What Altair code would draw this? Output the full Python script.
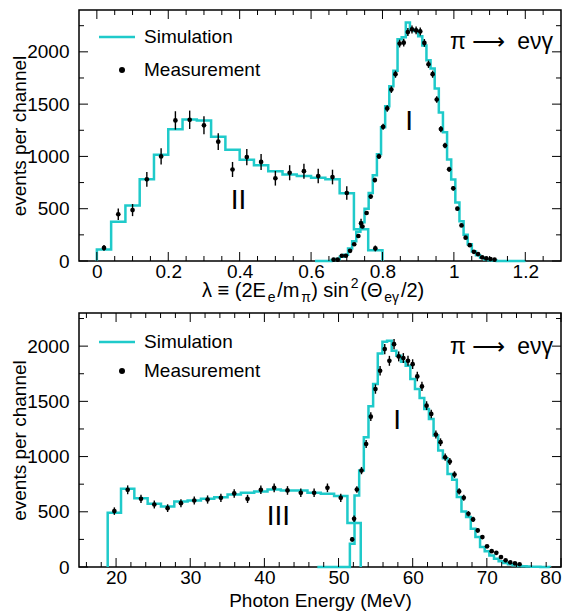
import altair as alt
import pandas as pd

# ---------------- data ----------------
CYAN = "#1fcaca"
FONT = "Liberation Sans"

# Top panel, region II: simulation bins of 0.04 starting at 0
top2_start = 0.0
top2_width = 0.04
top2_sim = [110, 375, 531, 781, 1016, 1259, 1353, 1344, 1188, 1063, 969, 916, 859,
            828, 812, 797, 781, 647, 303, 103]
top2_meas = [125, 447, 487, 781, 1000, 1344, 1350, 1297, 1141, 875, 994, 947, 791,
             844, 859, 813, 803, 650, 360, 120]
top2_err = [28, 55, 58, 70, 78, 88, 88, 86, 80, 72, 78, 76, 70, 72, 72, 70, 70,
            64, 45, 28]

# Top panel, region I
top1_start = 0.611
top1_width = 0.01156
top1_sim = [0, 0, 0, 0, 10, 20, 40, 60, 120, 190, 280, 370, 500, 650, 820, 1020,
            1280, 1480, 1670, 1820, 2120, 2140, 2280, 2210, 2200, 2150, 2060, 1920,
            1840, 1650, 1420, 1230, 970, 780, 560, 380, 250, 160, 90, 55, 30, 15, 8,
            5, 0, 0, 0, 0, 0, 0, 0]
top1_meas_first = 4
top1_meas = [13, 13, 50, 50, 97, 160, 239, 330, 459, 616, 774, 1000, 1283, 1459,
             1639, 1786, 2079, 2088, 2189, 2214, 2205, 2195, 2085, 1881, 1786, 1544,
             1261, 1104, 877, 695, 500, 340, 223, 151, 88, 66, 35, 25, 19, 13]
top1_err = [5, 5, 7, 7, 9, 11, 13, 15, 17, 20, 22, 25, 29, 31, 32, 34, 37, 37, 38,
            38, 38, 38, 37, 35, 34, 32, 29, 27, 24, 21, 18, 15, 12, 10, 8, 7, 5, 4,
            4, 3]

# Bottom panel, region III
bot3_start = 18.87
bot3_width = 1.796
bot3_sim = [491, 708, 623, 572, 548, 593, 602, 617, 632, 657, 672, 684, 702, 693,
            693, 672, 663, 642, 398]
bot3_meas = [506, 699, 617, 566, 533, 578, 602, 611, 626, 666, 617, 699, 717, 693,
             672, 672, 717, 626, 437]
bot3_err = [34, 40, 37, 36, 35, 36, 36, 37, 37, 38, 37, 39, 39, 39, 38, 38, 39, 37, 30]

# Bottom panel, region I
bot1_start = 47.14
bot1_width = 0.627
bot1_sim = [0, 0, 0, 0, 0, 0, 0, 211, 648, 873, 1175, 1455, 1657, 1934, 2039, 2048,
            1958, 1913, 1858, 1822, 1702, 1611, 1530, 1431, 1340, 1190, 1054, 985,
            843, 789, 633, 503, 452, 346, 271, 181, 142, 105, 75, 51, 36, 24, 15, 9,
            6, 4, 3, 2, 1, 1]
bot1_meas_first = 7
bot1_meas = [250, 702, 873, 1114, 1361, 1611, 1777, 1973, 1867, 2018, 1907, 1892,
             1867, 1837, 1726, 1635, 1461, 1386, 1199, 1130, 994, 955, 837, 684, 627,
             482, 431, 331, 271, 187, 143, 128, 90, 60, 42, 33, 25]
bot1_err = [22, 30, 33, 36, 40, 42, 44, 46, 45, 46, 45, 45, 45, 44, 43, 42, 40, 39,
            36, 35, 33, 32, 30, 28, 27, 24, 23, 20, 18, 15, 13, 12, 10, 8, 7, 6, 5]

# axes
top_x_dom = [-0.05, 1.3]
top_y_dom = [0, 2400]
top_x_major = [0, 0.2, 0.4, 0.6, 0.8, 1.0, 1.2]
top_x_minor = [0.05, 0.1, 0.15, 0.25, 0.3, 0.35, 0.45, 0.5, 0.55, 0.65, 0.7, 0.75,
               0.85, 0.9, 0.95, 1.05, 1.1, 1.15, 1.25]
bot_x_dom = [15, 80]
bot_y_dom = [0, 2300]
bot_x_major = [20, 30, 40, 50, 60, 70, 80]
bot_x_minor = [16, 18, 22, 24, 26, 28, 32, 34, 36, 38, 42, 44, 46, 48, 52, 54, 56,
               58, 62, 64, 66, 68, 72, 74, 76, 78]
y_major = [0, 500, 1000, 1500, 2000]
y_minor = [250, 750, 1250, 1750, 2250]

# text annotations (data coordinates)
top_labels = [{"x": 0.397, "y": 570, "t": "II"}, {"x": 0.875, "y": 1330, "t": "I"}]
bot_labels = [{"x": 41.9, "y": 455, "t": "III"}, {"x": 57.9, "y": 1323, "t": "I"}]

W = 482
H_TOP = 251
H_BOT = 254


# ---------------- helpers ----------------
def hist_rows(start, width, vals, series):
    rows = [{"x": start, "y": 0, "i": 0, "s": series}]
    for k, v in enumerate(vals):
        rows.append({"x": start + k * width, "y": v, "i": k + 1, "s": series})
    rows.append({"x": start + len(vals) * width, "y": 0, "i": len(vals) + 1, "s": series})
    return rows


def meas_rows(start, width, first, vals, errs):
    return [{"x": start + (first + k + 0.5) * width, "y": v, "lo": v - e, "hi": v + e}
            for k, (v, e) in enumerate(zip(vals, errs))]


ONE = pd.DataFrame({"a": [0]})


def ticks(xmaj, xmin, ymaj, ymin, h):
    layers = []
    for vals, ln in ((xmaj, 9), (xmin, 5)):
        d = pd.DataFrame({"v": vals})
        layers.append(alt.Chart(d).mark_rule(color="black", strokeWidth=1).encode(
            x=alt.X("v:Q"), y=alt.value(h), y2=alt.value(h - ln)))
        layers.append(alt.Chart(d).mark_rule(color="black", strokeWidth=1).encode(
            x=alt.X("v:Q"), y=alt.value(0), y2=alt.value(ln)))
    for vals, ln in ((ymaj, 9), (ymin, 5)):
        d = pd.DataFrame({"v": vals})
        layers.append(alt.Chart(d).mark_rule(color="black", strokeWidth=1).encode(
            y=alt.Y("v:Q"), x=alt.value(0), x2=alt.value(ln)))
        layers.append(alt.Chart(d).mark_rule(color="black", strokeWidth=1).encode(
            y=alt.Y("v:Q"), x=alt.value(W), x2=alt.value(W - ln)))
    return layers


def txt(t, x, y, size, align="left", font=FONT, baseline="middle"):
    return alt.Chart(ONE).mark_text(align=align, baseline=baseline, font=font,
                                    fontSize=size, text=t).encode(
        x=alt.value(x), y=alt.value(y))


def legend(y1, y2):
    return [
        alt.Chart(ONE).mark_rule(color=CYAN, strokeWidth=2.5).encode(
            x=alt.value(20), x2=alt.value(56), y=alt.value(y1)),
        txt("Simulation", 65, y1, 19),
        alt.Chart(ONE).mark_circle(color="black", opacity=1, size=36).encode(
            x=alt.value(43), y=alt.value(y2)),
        txt("Measurement", 65, y2, 19),
        txt("π", 371, y1 + 5, 23),
        txt("⟶", 393, y1 + 5, 23, font="DejaVu Sans"),
        txt("eνγ", 474, y1 + 5, 23, align="right"),
    ]


def panel(hists, meas, labels, xdom, ydom, xmaj, xmin, h, xtitle, extra):
    hd = pd.DataFrame(hists)
    md = pd.DataFrame(meas)
    ld = pd.DataFrame(labels)
    xax = alt.Axis(values=xmaj, format="~g", title=xtitle, labelPadding=1,
                   titlePadding=4)
    yax = alt.Axis(values=y_major, format="d", title="events per channel",
                   labelPadding=10, titleX=-50, titleBaseline="bottom")
    base = alt.Chart(hd).mark_line(interpolate="step-after", color=CYAN,
                                   strokeWidth=2.5).encode(
        x=alt.X("x:Q", scale=alt.Scale(domain=xdom, nice=False, zero=False), axis=xax),
        y=alt.Y("y:Q", scale=alt.Scale(domain=ydom, nice=False), axis=yax),
        detail="s:N", order="i:Q")
    err = alt.Chart(md).mark_rule(color="black", strokeWidth=1.4).encode(
        x=alt.X("x:Q"), y=alt.Y("lo:Q"), y2="hi:Q")
    pts = alt.Chart(md).mark_circle(color="black", opacity=1, size=22).encode(
        x=alt.X("x:Q"), y=alt.Y("y:Q"))
    lab = alt.Chart(ld).mark_text(font=FONT, fontSize=28, baseline="middle").encode(
        x=alt.X("x:Q"), y=alt.Y("y:Q"), text="t:N")
    layers = [base, err, pts, lab] + ticks(xmaj, xmin, y_major, y_minor, h) + extra
    return alt.layer(*layers).properties(width=W, height=h)


# top-panel x title built from pieces (sub/superscripts)
def xtitle_pieces(h):
    big, small, gap = 20, 14, 1.8
    pieces = [("λ ≡ (2E", big, 0), ("e", small, 5), ("/m", big, 0), ("π", small, 5),
              (") sin", big, 0), ("2", small, -9), ("(Θ", big, 0), ("eγ", small, 5),
              ("/2)", big, 0)]
    wtab = {"λ": .5, " ": .278, "≡": .584, "(": .333, ")": .333, "2": .556, "E": .667,
            "e": .556, "/": .278, "m": .833, "π": .578, "s": .5, "i": .222, "n": .556,
            "Θ": .778, "γ": .5}
    widths = [sum(wtab[c] for c in t) * fs + gap for t, fs, _ in pieces]
    x = 235 - sum(widths) / 2
    out = []
    for (t, fs, dy), w in zip(pieces, widths):
        out.append(txt(t, x, h + 36 + dy, fs, baseline="alphabetic"))
        x += w
    return out


top_hist = hist_rows(top2_start, top2_width, top2_sim, "II") + \
    hist_rows(top1_start, top1_width, top1_sim, "I")
top_meas = meas_rows(top2_start, top2_width, 0, top2_meas, top2_err) + \
    meas_rows(top1_start, top1_width, top1_meas_first, top1_meas, top1_err)
bot_hist = hist_rows(bot3_start, bot3_width, bot3_sim, "III") + \
    hist_rows(bot1_start, bot1_width, bot1_sim, "I")
bot_meas = meas_rows(bot3_start, bot3_width, 0, bot3_meas, bot3_err) + \
    meas_rows(bot1_start, bot1_width, bot1_meas_first, bot1_meas, bot1_err)

top = panel(top_hist, top_meas, top_labels, top_x_dom, top_y_dom, top_x_major,
            top_x_minor, H_TOP, None, legend(27, 60) + xtitle_pieces(H_TOP))
bot = panel(bot_hist, bot_meas, bot_labels, bot_x_dom, bot_y_dom, bot_x_major,
            bot_x_minor, H_BOT, "Photon Energy (MeV)", legend(29, 58))

chart = alt.vconcat(top, bot, spacing=5).properties(
    padding={"left": 1, "top": 0, "right": 0, "bottom": 0}
).configure_view(stroke="black", strokeWidth=1.5).configure_axis(
    grid=False, domain=False, ticks=False, tickSize=0, labelFont=FONT,
    labelFontSize=19, labelColor="black", titleFont=FONT, titleFontSize=19,
    titleFontWeight="normal", titleColor="black")

chart.save("out.html", embed_options={"renderer": "svg", "actions": False})
